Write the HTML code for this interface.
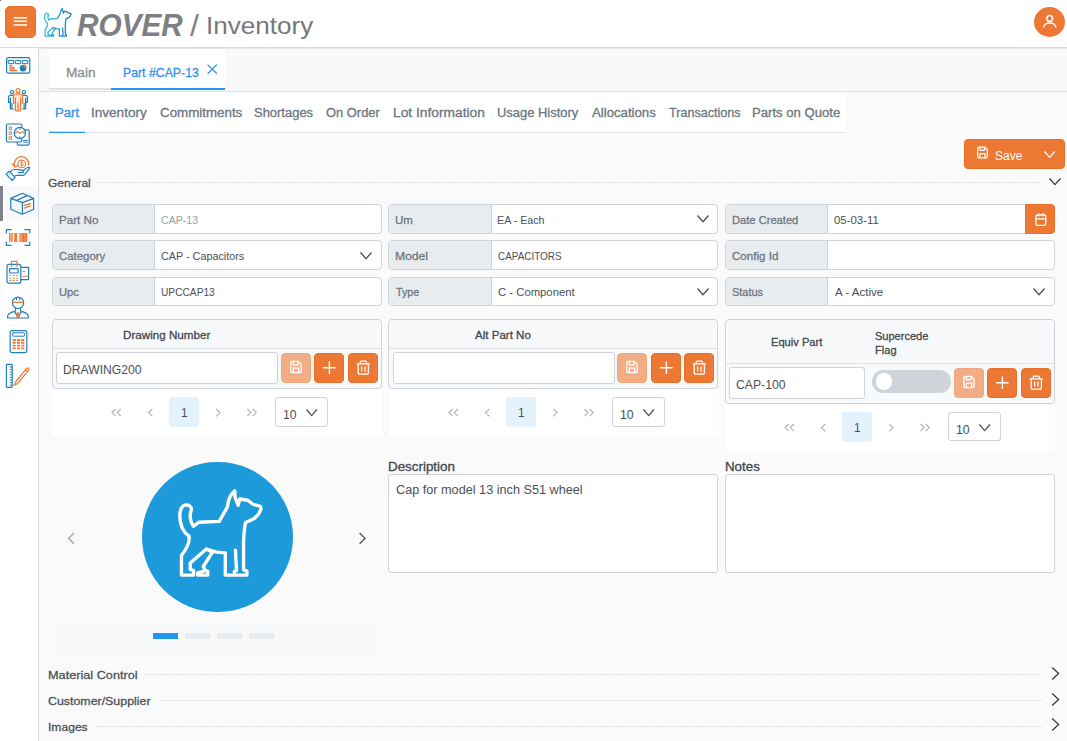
<!DOCTYPE html>
<html lang="en">
<head>
<meta charset="utf-8">
<title>ROVER / Inventory</title>
<style>
*{box-sizing:border-box;margin:0;padding:0}
html,body{width:1067px;height:741px;overflow:hidden}
body{position:relative;background:#fafafa;font-family:"Liberation Sans",sans-serif;font-size:12.5px;color:#495057}
.abs{position:absolute}
.t{position:absolute;white-space:nowrap;line-height:16px;transform-origin:0 0}
#header{position:absolute;left:0;top:0;width:1067px;height:48px;background:#fff;border-bottom:1px solid #d9d9d9}
#hsh{position:absolute;left:0;top:48px;width:1067px;height:1px;background:#e6e6e6}
#menu{position:absolute;left:5px;top:6px;width:31px;height:32px;background:#ec7833;border:1px solid #ea7028;border-radius:5px}
#user{position:absolute;left:1034px;top:7px;width:31px;height:30px;border-radius:50%;background:#ec7833}
#side{position:absolute;left:0;top:48px;width:39px;height:693px;background:#fff;border-right:1px solid #d9d9d9}
#strip{position:absolute;left:39px;top:49px;width:1028px;height:42px;background:#f8f9fa}
#tabs{position:absolute;left:49px;top:49px;width:176px;height:41px;background:#fff}
#tabs .ln{position:absolute;left:0;top:39px;width:62px;height:2px;background:#dee2e6}
#tabs .lnb{position:absolute;left:62px;top:39px;width:114px;height:2px;background:#2196f3}
#hr1{position:absolute;left:39px;top:91px;width:1028px;height:1px;background:#dee2e6}
#sub{position:absolute;left:49px;top:92px;width:797px;height:41px;background:#fff;border-bottom:1px solid #dee2e6}
#sub .ul{position:absolute;left:0;top:39px;width:36px;height:2px;background:linear-gradient(rgba(33,150,243,.3) 0,rgba(33,150,243,.3) 50%,#2196f3 50%)}
.dash{position:absolute;height:1px;background:repeating-linear-gradient(90deg,#e1e3e6 0,#e1e3e6 4px,transparent 4px,transparent 5px)}
.sec{position:absolute;left:49px;font-size:12.8px;color:#3f454b;white-space:nowrap;line-height:16px}
.f{position:absolute;height:29.5px;width:329.6px;border:1px solid #ced4da;border-radius:4px;background:#fff;overflow:hidden}
.f .l{position:absolute;left:0;top:0;width:102px;height:28px;background:#e9ecef;border-right:1px solid #ced4da}
.tb{position:absolute;border:1px solid #ced4da;border-radius:4px;background:#f8f9fa;width:329.6px}
.tb .hl{position:absolute;left:0;width:100%;height:1px;background:#dee2e6}
.inp{position:absolute;border:1px solid #ced4da;border-radius:3px;background:#fff}
.btn{position:absolute;width:30px;height:30px;border-radius:4px;background:#ec7833;border:1px solid #ea7028}
.btn.dis{background:#f2ad85;border-color:#f1a77c}
.btn svg{position:absolute;left:-1px;top:-1px;width:30px;height:30px}
.pg{position:absolute;background:#fff;width:329.6px;height:46px}
.pg .cur{position:absolute;left:117px;top:7px;width:30px;height:30px;background:#e3f2fd;border-radius:3px}
.pg svg.ar{position:absolute;top:0;left:0;width:330px;height:46px}
.pg .dd{position:absolute;left:223px;top:7px;width:52.6px;height:29.5px;border:1px solid #ced4da;border-radius:3px;background:#fff}
.ta{position:absolute;border:1px solid #ced4da;border-radius:3px;background:#fff}
</style>
</head>
<body>
<!-- HEADER -->
<div id="header">
  <div id="menu"><svg class="abs" style="left:-1px;top:-1px" width="31" height="32" viewBox="0 0 31 32"><path d="M8.6 11.7H22M8.6 15.3H22M8.6 19H22" stroke="#fff" stroke-width="1.45" fill="none"/></svg></div>
  <svg class="abs" style="left:42px;top:6px;width:32px;height:33px;overflow:visible" viewBox="0 0 32 33">
    <defs><linearGradient id="lg" x1="0" y1="0" x2="1" y2="0"><stop offset="0" stop-color="#2fbce6"/><stop offset="1" stop-color="#1a78b8"/></linearGradient></defs>
    <path d="M160 328C135 300 128 250 143 205C148 180 120 165 95 172C55 185 45 260 75 340C90 372 110 390 125 400C135 440 120 480 70 545V690H160V657L135 648V600L255 497L300 520L232 626L246 655L265 662V690H190V674L236 660M255 497L330 520L395 525V690H555V660L530 650V450C532 400 534 350 545 300L610 270L640 240L660 200L655 180L600 165L560 135L502 126L490 172L468 115L465 65C435 90 415 140 410 185L350 292L200 298L160 328M470 505L478 655L462 663V690" stroke="url(#lg)" stroke-width="29" stroke-linejoin="round" stroke-linecap="round" fill="none" transform="translate(-0.01 -0.31) scale(0.044)"/>
  </svg>
  <div id="user">
    <svg viewBox="0 0 31 30" width="31" height="30"><circle cx="15.7" cy="11.4" r="2.9" fill="none" stroke="#fff" stroke-width="1.4"/><path d="M9.6 20.6C9.8 14.4 21.6 14.4 21.8 20.6" fill="none" stroke="#fff" stroke-width="1.4"/></svg>
  </div>
</div>
<div id="hsh"></div>

<div class="t" style="left:76.73px;top:6px;font-size:31.2px;line-height:40px;color:#7d7f83;transform:scaleX(0.9540);font-weight:bold;font-style:italic;">ROVER</div>
<div class="t" style="left:189.53px;top:6px;font-size:28.6px;line-height:40px;color:#808285;transform:scaleX(1.1343);">/</div>
<div class="t" style="left:206.08px;top:6px;font-size:23.2px;line-height:40px;color:#77787b;transform:scaleX(1.1240);">Inventory</div>
<div class="abs" style="left:0;top:0;width:1px;height:1px;background:#6a6a6a;z-index:5"></div>
<!-- SIDEBAR -->
<div id="side"></div>
<div class="abs" style="left:0;top:186px;width:3px;height:35px;background:#7f828c"></div>
<div class="abs" style="left:4px;top:186px;width:34px;height:35px;background:#f8f9fa"></div>
<svg class="abs" style="left:0;top:0;width:39px;height:400px" viewBox="0 0 39 400" fill="none" stroke-linecap="round" stroke-linejoin="round">
  <g stroke="#1f7fb8" stroke-width="1.2">
    <!-- 1 dashboard -->
    <rect x="6.6" y="57.6" width="23.2" height="15.6" rx="1.8"/>
    <rect x="8.6" y="60.5" width="5" height="3.2" stroke-width="1"/>
    <rect x="15.7" y="60.5" width="5" height="3.2" stroke-width="1"/>
    <rect x="22.8" y="60.5" width="5" height="3.2" stroke-width="1"/>
    <circle cx="23" cy="68.2" r="2.7" fill="#1f7fb8"/>
    <!-- 2 people (blue sides) -->
    <circle cx="12.1" cy="92.1" r="1.6"/>
    <circle cx="23.9" cy="92.1" r="1.6"/>
    <path d="M13 95.4H10.4A1.8 1.8 0 0 0 8.6 97.2V102.4H10.4V109H13.4M10.4 102.4V98M11.9 103V109" />
    <path d="M23 95.4H25.6A1.8 1.8 0 0 1 27.4 97.2V102.4H25.6V109H22.6M25.6 102.4V98M24.1 103V109"/>
    <!-- 3 schedule -->
    <path d="M21.8 128V125.4A1.4 1.4 0 0 0 20.4 124H7.8A1.4 1.4 0 0 0 6.4 125.4V140.6A1.4 1.4 0 0 0 7.8 142H20.4A1.4 1.4 0 0 0 21.8 140.6V139.6"/>
    <path d="M25.4 129.8H27.8A1.4 1.4 0 0 1 29.2 131.2V143.8A1.4 1.4 0 0 1 27.8 145.2H18.6A1.4 1.4 0 0 1 17.2 143.8V142.2"/>
    <circle cx="19.9" cy="133" r="5.6" fill="#fff"/>
    <path d="M19.9 128.4V129.4M19.9 136.6V137.6M15.3 133H16.3M23.5 133H24.5" stroke-width="1"/>
    <path d="M23.4 140.4H27.4M23.4 142.2H27.4" stroke-width="1"/>
    <!-- 4 hand -->
    <path d="M6.1 174.1L9.3 171.3L15.1 177.4L12.1 180.5ZM10.6 171.6C11.4 170.2 12.6 169.6 14 169.5H17C19 169.5 20.5 170.3 22.6 170.3C23.8 170.3 23.8 172.6 22.6 172.6H18.4M23.2 170.6L27.6 167.4C28.8 166.6 30.2 167.8 29.3 169L24.6 174.6C24.2 175.1 23.6 175.3 23 175.3H16.4L14.2 176.6"/>
    <circle cx="9.5" cy="174.3" r="0.5" fill="#1f7fb8" stroke="none"/>
    <!-- 5 box -->
    <path d="M22.3 193.3L33.6 198.4V209.3L22.4 214.2L10.8 209.3V198.4ZM10.8 198.4L22.4 202.6L33.6 198.4M22.4 202.6V214.2M16.9 200.4L27 195.6"/>
    <!-- 6 barcode corners -->
    <path d="M6.4 233.4V229.6H11.6M24.4 229.6H29.8V233.4M29.8 241.6V245.4H24.4M11.6 245.4H6.4V241.6" stroke-linecap="butt" stroke-linejoin="miter"/>
    <!-- 7 pos -->
    <rect x="7" y="264.4" width="13.8" height="18.8" rx="2"/>
    <rect x="9.6" y="268.6" width="8.6" height="4.4" rx="0.8"/>
    <path d="M21 267.4H28.6V279.6H21"/>
    <!-- 8 worker -->
    <circle cx="18" cy="302.8" r="5.7"/>
    <path d="M16.4 297.4V300M19.6 297.4V300" stroke-width="1"/>
    <path d="M7.6 318V316.6C7.6 313.4 10.8 312.4 14.6 311.4L18 317.4L21.4 311.4C25.2 312.4 28.4 313.4 28.4 316.6V318Z"/>
    <path d="M15.4 308.2V311.2M20.6 308.2V311.2" stroke-width="1"/>
    <!-- 9 calc -->
    <rect x="10.2" y="330.6" width="16.6" height="22" rx="2"/>
    <rect x="12.6" y="332.8" width="11.8" height="3.4" rx="0.6" stroke-width="1"/>
    <!-- 10 ruler -->
    <rect x="6.4" y="364.4" width="5.8" height="23" rx="0.8"/>
    <path d="M10 367H12M10 369.6H12M10 372.2H12M10 374.8H12M10 377.4H12M10 380H12M10 382.6H12M10 385.2H12" stroke-width="0.9"/>
  </g>
  <g stroke="#ee7a3a" stroke-width="1.2">
    <!-- 1 -->
    <path d="M9.4 65.6H12.4M9.4 67.3H14.6M9.4 69H14.8M9.4 70.7H17.4" stroke-width="1.3" stroke-linecap="butt"/>
    <path d="M23.5 67.7V64.4A3.3 3.3 0 0 1 26.8 67.7Z" fill="#ee7a3a" stroke="none"/>
    <!-- 2 center -->
    <circle cx="18" cy="90.7" r="2"/>
    <path d="M15.4 94.2H20.6A2 2 0 0 1 22.6 96.2V103H20.6V110A0.8 0.8 0 0 1 19.8 110.8H16.2A0.8 0.8 0 0 1 15.4 110V103H13.4V96.2A2 2 0 0 1 15.4 94.2ZM18 103V110.6M15.4 103V98M20.6 103V98" fill="#fde3d3"/>
    <!-- 3 -->
    <rect x="9.2" y="127" width="2.4" height="2.4" stroke-width="1" stroke-linejoin="miter"/>
    <rect x="9.2" y="131.8" width="2.4" height="2.4" stroke-width="1" stroke-linejoin="miter"/>
    <rect x="9.2" y="136.8" width="2.4" height="2.4" stroke-width="1" stroke-linejoin="miter"/>
    <path d="M16.6 131L19.9 133.2L23.2 131.4" stroke-width="1.1"/>
    <!-- 4 -->
    <path d="M14.6 166A7.2 7.2 0 1 1 28.6 165M12.2 163.8L15 167.2L18 165.2" stroke-width="1.3"/>
    <circle cx="21.7" cy="163.9" r="3.8" stroke-width="1.1"/>
    <path d="M22.9 162.6C21.9 161.7 20.5 162.3 20.7 163.2C20.9 164.1 22.9 163.7 22.9 164.8C22.9 165.7 21.3 165.9 20.5 165.2M21.8 161.4V166.4" stroke-width="0.9"/>
    <!-- 5 -->
    <path d="M24.4 205.4L30 203.6M24.4 208.1L30.2 205.9" stroke-width="1.3"/>
    <!-- 6 bars -->
    <path d="M9.8 233V242M12 233V242M15 233V242M16.4 233V242M20 233V242M22 233V242M23.4 233V242M25 233V242M26.6 233V242" stroke-linecap="butt" stroke-width="1.5"/>
    <!-- 7 -->
    <path d="M11.4 266.4V261.4H17V266.4"/>
    <path d="M9.4 275.6H11.4M12.8 275.6H14.8M16.2 275.6H18.2M9.4 278.2H11.4M12.8 278.2H14.8M16.2 278.2H18.2M9.4 280.6H11.4M12.8 280.6H14.8M16.2 280.6H18.2M22.4 271.6H25.4M22.4 276.4H27.8" stroke-width="1" stroke-linecap="butt"/>
    <!-- 8 -->
    <path d="M13.2 302.4H22.8" stroke-width="1.3"/>
    <path d="M17.2 312.6H18.8L19.2 317.8H16.8Z" fill="#ee7a3a" stroke-width="0.6"/>
    <!-- 9 -->
    <path d="M12.6 340H24.4M12.6 342.8H24.4M12.6 345.6H24.4M12.6 348.4H24.4" stroke-width="1.9" stroke-linecap="butt" stroke-dasharray="3.2 1.1"/>
    <!-- 10 -->
    <path d="M12.4 385H15.2L17.4 383.6L28.8 369.8C29.6 368.8 27.6 367.2 26.8 368.2L15.6 382L15.2 385M25.4 369.8L27.6 371.6"/>
  </g>
</svg>

<!-- TOP TABS -->
<div id="strip"></div>
<div id="tabs">
  <div class="ln"></div><div class="lnb"></div>
  <svg class="abs" style="left:157.6px;top:15px;width:11px;height:11px" viewBox="0 0 11 11"><path d="M0.6 0.6L10 9.8M10 0.6L0.6 9.8" stroke="#2f8ff0" stroke-width="1.3" fill="none"/></svg>
</div>
<div id="hr1"></div>

<div class="t" style="left:66.01px;top:65px;font-size:12.5px;color:#868e96;transform:scaleX(1.0909);-webkit-text-stroke:0.28px currentColor;">Main</div>
<div class="t" style="left:122.72px;top:65px;font-size:12.5px;color:#2f8ff0;transform:scaleX(0.9830);-webkit-text-stroke:0.28px currentColor;">Part #CAP-13</div>
<!-- SUB TABS -->
<div id="sub"><div class="ul"></div></div>
<div class="t" style="left:54.55px;top:105px;font-size:12.5px;color:#2f8ff0;transform:scaleX(1.0500);-webkit-text-stroke:0.28px currentColor;">Part</div>
<div class="t" style="left:90.71px;top:105px;font-size:12.5px;color:#6c757d;transform:scaleX(1.0838);-webkit-text-stroke:0.28px currentColor;">Inventory</div>
<div class="t" style="left:159.92px;top:105px;font-size:12.5px;color:#6c757d;transform:scaleX(1.0674);-webkit-text-stroke:0.28px currentColor;">Commitments</div>
<div class="t" style="left:254.31px;top:105px;font-size:12.5px;color:#6c757d;transform:scaleX(1.0367);-webkit-text-stroke:0.28px currentColor;">Shortages</div>
<div class="t" style="left:325.99px;top:105px;font-size:12.5px;color:#6c757d;transform:scaleX(1.0336);-webkit-text-stroke:0.28px currentColor;">On Order</div>
<div class="t" style="left:392.70px;top:105px;font-size:12.5px;color:#6c757d;transform:scaleX(1.1018);-webkit-text-stroke:0.28px currentColor;">Lot Information</div>
<div class="t" style="left:496.75px;top:105px;font-size:12.5px;color:#6c757d;transform:scaleX(1.0355);-webkit-text-stroke:0.28px currentColor;">Usage History</div>
<div class="t" style="left:591.55px;top:105px;font-size:12.5px;color:#6c757d;transform:scaleX(1.0552);-webkit-text-stroke:0.28px currentColor;">Allocations</div>
<div class="t" style="left:668.57px;top:105px;font-size:12.5px;color:#6c757d;transform:scaleX(1.0074);-webkit-text-stroke:0.28px currentColor;">Transactions</div>
<div class="t" style="left:752.25px;top:105px;font-size:12.5px;color:#6c757d;transform:scaleX(1.0492);-webkit-text-stroke:0.28px currentColor;">Parts on Quote</div>

<!-- SAVE -->
<div class="abs" style="left:964px;top:139px;width:101px;height:30px;background:#ec7833;border:1px solid #ea7028;border-radius:4px">
  <svg class="abs" style="left:3.4px;top:-1.2px;width:29px;height:29px" viewBox="0 0 30 30"><path d="M11.2 8.3H17.2L20 11.1V18.4A1.2 1.2 0 0 1 18.8 19.6H11.2A1.2 1.2 0 0 1 10 18.4V9.5A1.2 1.2 0 0 1 11.2 8.3ZM12.4 8.5V11.8H17V8.5M12.4 19.4V15.1H17.6V19.4" fill="none" stroke="#fff" stroke-width="1.3" stroke-linejoin="round"/></svg>
</div>
<div class="t" style="left:994.64px;top:148px;font-size:12.5px;color:#fff;transform:scaleX(0.9593);">Save</div><svg class="abs" style="left:1044px;top:151px;width:11.4px;height:7.4px;overflow:visible" viewBox="0 0 11.4 7.4"><path d="M0.5 0.5L5.7 6.4L10.9 0.5" fill="none" stroke="#fff" stroke-width="1.3"/></svg>
<!-- SECTIONS -->
<div class="t" style="left:48.37px;top:175px;font-size:11.8px;color:#495057;transform:scaleX(1.0186);-webkit-text-stroke:0.28px currentColor;">General</div><div class="dash" style="left:97px;top:182px;width:945px"></div><svg class="abs" style="left:1049px;top:178.2px;width:12px;height:7.6px;overflow:visible" viewBox="0 0 12 7.6"><path d="M0.5 0.5L6.0 6.6L11.5 0.5" fill="none" stroke="#343a40" stroke-width="1.3"/></svg>
<div class="t" style="left:48.02px;top:667px;font-size:11.8px;color:#495057;transform:scaleX(1.0757);-webkit-text-stroke:0.28px currentColor;">Material Control</div><div class="dash" style="left:145px;top:674px;width:897px"></div><svg class="abs" style="left:1051px;top:666.8px;width:9px;height:13px" viewBox="0 0 9 13"><path d="M1.2 0.6L7.6 6.5L1.2 12.4" fill="none" stroke="#343a40" stroke-width="1.3"/></svg>
<div class="t" style="left:48.36px;top:693px;font-size:11.8px;color:#495057;transform:scaleX(1.0495);-webkit-text-stroke:0.28px currentColor;">Customer/Supplier</div><div class="dash" style="left:159px;top:700px;width:883px"></div><svg class="abs" style="left:1051px;top:692.8px;width:9px;height:13px" viewBox="0 0 9 13"><path d="M1.2 0.6L7.6 6.5L1.2 12.4" fill="none" stroke="#343a40" stroke-width="1.3"/></svg>
<div class="t" style="left:47.78px;top:719px;font-size:11.8px;color:#495057;transform:scaleX(1.0248);-webkit-text-stroke:0.28px currentColor;">Images</div><div class="dash" style="left:95px;top:726px;width:947px"></div><svg class="abs" style="left:1051px;top:717.8px;width:9px;height:13px" viewBox="0 0 9 13"><path d="M1.2 0.6L7.6 6.5L1.2 12.4" fill="none" stroke="#343a40" stroke-width="1.3"/></svg>
<!-- FIELDS -->
<div class="f" style="left:52px;top:204px"><div class="l"></div></div><div class="t" style="left:58.99px;top:212px;font-size:11.6px;color:#6c757d;transform:scaleX(1.0029);-webkit-text-stroke:0.28px currentColor;">Part No</div><div class="t" style="left:161.18px;top:212px;font-size:11.4px;color:#9a9fa4;transform:scaleX(0.9305);">CAP-13</div>
<div class="f" style="left:52px;top:240.3px"><div class="l"></div></div><div class="t" style="left:59.29px;top:248px;font-size:11.6px;color:#6c757d;transform:scaleX(0.9833);-webkit-text-stroke:0.28px currentColor;">Category</div><div class="t" style="left:161.17px;top:248px;font-size:11.4px;color:#495057;transform:scaleX(0.9478);">CAP - Capacitors</div><svg class="abs" style="left:359.6px;top:251.5px;width:12px;height:7.8px;overflow:visible" viewBox="0 0 12 7.8"><path d="M0.5 0.5L6.0 6.8L11.5 0.5" fill="none" stroke="#495057" stroke-width="1.3"/></svg>
<div class="f" style="left:52px;top:276.7px"><div class="l"></div></div><div class="t" style="left:59.08px;top:284px;font-size:11.6px;color:#6c757d;transform:scaleX(0.9676);-webkit-text-stroke:0.28px currentColor;">Upc</div><div class="t" style="left:160.75px;top:284px;font-size:11.4px;color:#495057;transform:scaleX(0.8935);">UPCCAP13</div>
<div class="f" style="left:388.4px;top:204px"><div class="l" style="width:103px"></div></div><div class="t" style="left:395.47px;top:212px;font-size:11.6px;color:#6c757d;transform:scaleX(0.9950);-webkit-text-stroke:0.28px currentColor;">Um</div><div class="t" style="left:497.16px;top:212px;font-size:11.4px;color:#495057;transform:scaleX(0.9391);">EA - Each</div><svg class="abs" style="left:696.8px;top:215.2px;width:12px;height:7.8px;overflow:visible" viewBox="0 0 12 7.8"><path d="M0.5 0.5L6.0 6.8L11.5 0.5" fill="none" stroke="#495057" stroke-width="1.3"/></svg>
<div class="f" style="left:388.4px;top:240.3px"><div class="l" style="width:103px"></div></div><div class="t" style="left:395.36px;top:248px;font-size:11.6px;color:#6c757d;transform:scaleX(1.0433);-webkit-text-stroke:0.28px currentColor;">Model</div><div class="t" style="left:497.61px;top:248px;font-size:11.4px;color:#495057;transform:scaleX(0.8702);">CAPACITORS</div>
<div class="f" style="left:388.4px;top:276.7px"><div class="l" style="width:103px"></div></div><div class="t" style="left:396.00px;top:284px;font-size:11.6px;color:#6c757d;transform:scaleX(0.9291);-webkit-text-stroke:0.28px currentColor;">Type</div><div class="t" style="left:497.55px;top:284px;font-size:11.4px;color:#495057;transform:scaleX(0.9925);">C - Component</div><svg class="abs" style="left:696.8px;top:287.9px;width:12px;height:7.8px;overflow:visible" viewBox="0 0 12 7.8"><path d="M0.5 0.5L6.0 6.8L11.5 0.5" fill="none" stroke="#495057" stroke-width="1.3"/></svg>
<div class="f" style="left:725px;top:204px"><div class="l"></div></div><div class="t" style="left:732.01px;top:212px;font-size:11.6px;color:#6c757d;transform:scaleX(0.9611);-webkit-text-stroke:0.28px currentColor;">Date Created</div><div class="t" style="left:834.26px;top:212px;font-size:11.4px;color:#495057;transform:scaleX(1.0001);">05-03-11</div><div class="abs" style="left:1024.6px;top:204px;width:30.4px;height:30px;background:#ec7833;border:1px solid #ea7028;border-radius:0 4px 4px 0"><svg class="abs" style="left:-1px;top:-1px" width="31" height="31" viewBox="0 0 31 31"><rect x="10.9" y="11" width="9.9" height="10.4" rx="1.7" fill="none" stroke="#fff" stroke-width="1.3"/><path d="M11 14.8H20.6M13.7 9.2V12.4M18 9.2V12.4" stroke="#fff" stroke-width="1.3" fill="none"/></svg></div>
<div class="f" style="left:725px;top:240.3px"><div class="l"></div></div><div class="t" style="left:732.28px;top:248px;font-size:11.6px;color:#6c757d;transform:scaleX(0.9990);-webkit-text-stroke:0.28px currentColor;">Config Id</div>
<div class="f" style="left:725px;top:276.7px"><div class="l"></div></div><div class="t" style="left:732.24px;top:284px;font-size:11.6px;color:#6c757d;transform:scaleX(0.9424);-webkit-text-stroke:0.28px currentColor;">Status</div><div class="t" style="left:834.51px;top:284px;font-size:11.4px;color:#495057;transform:scaleX(1.0168);">A - Active</div><svg class="abs" style="left:1032.6px;top:287.9px;width:12px;height:7.8px;overflow:visible" viewBox="0 0 12 7.8"><path d="M0.5 0.5L6.0 6.8L11.5 0.5" fill="none" stroke="#495057" stroke-width="1.3"/></svg>
<!-- TABLES -->
<div class="tb" style="left:52px;top:319px;height:69.5px"><div class="hl" style="top:28px"></div><div class="inp" style="left:3.4px;top:32.4px;width:222px;height:31.2px"></div></div><div class="t" style="left:122.70px;top:327px;font-size:11.4px;color:#3f464d;transform:scaleX(1.0222);-webkit-text-stroke:0.28px currentColor;">Drawing Number</div><div class="t" style="left:62.91px;top:362px;font-size:12.3px;color:#495057;transform:scaleX(0.9888);">DRAWING200</div><div class="btn dis" style="left:281px;top:353px"><svg viewBox="0 0 30 30"><path d="M11.2 8.3H17.2L20 11.1V18.4A1.2 1.2 0 0 1 18.8 19.6H11.2A1.2 1.2 0 0 1 10 18.4V9.5A1.2 1.2 0 0 1 11.2 8.3ZM12.4 8.5V11.8H17V8.5M12.4 19.4V15.1H17.6V19.4" fill="none" stroke="#fff" stroke-width="1.3" stroke-linejoin="round"/></svg></div><div class="btn" style="left:314.2px;top:353px"><svg viewBox="0 0 30 30"><path d="M15.4 8.6V21M9.2 14.8H21.6" fill="none" stroke="#fff" stroke-width="1.4"/></svg></div><div class="btn" style="left:347.8px;top:353px"><svg viewBox="0 0 30 30"><path d="M8.6 10.8H22M12.2 10.6V9.2A1 1 0 0 1 13.2 8.2H17.4A1 1 0 0 1 18.4 9.2V10.6M10.2 11V19.8A1.4 1.4 0 0 0 11.6 21.2H19A1.4 1.4 0 0 0 20.4 19.8V11M13.6 13.6V18.4M17 13.6V18.4" fill="none" stroke="#fff" stroke-width="1.3" stroke-linejoin="round"/></svg></div><div class="pg" style="left:52px;top:390px"><svg class="ar" viewBox="0 0 330 46"><g fill="none" stroke="#adb5bd" stroke-width="1.2"><path d="M63.6 19.0L60 22.6L63.6 26.200000000000003M68.8 19.0L65.2 22.6L68.8 26.200000000000003"/><path d="M100.4 18.8L96.6 22.6L100.4 26.400000000000002"/><path d="M164.2 18.8L168 22.6L164.2 26.400000000000002"/><path d="M195.4 19.0L199 22.6L195.4 26.200000000000003M200.6 19.0L204.2 22.6L200.6 26.200000000000003"/></g></svg><div class="cur"></div><div class="dd"></div></div><div class="t" style="left:180.54px;top:405px;font-size:12.3px;color:#495057;transform:scaleX(0.9630);">1</div><div class="t" style="left:282.71px;top:407px;font-size:12.3px;color:#495057;transform:scaleX(0.9941);">10</div><svg class="abs" style="left:305.8px;top:409.4px;width:11.4px;height:7.6px;overflow:visible" viewBox="0 0 11.4 7.6"><path d="M0.5 0.5L5.7 6.6L10.9 0.5" fill="none" stroke="#495057" stroke-width="1.3"/></svg>
<div class="tb" style="left:388.4px;top:319px;height:69.5px"><div class="hl" style="top:28px"></div><div class="inp" style="left:3.4px;top:32.4px;width:222px;height:31.2px"></div></div><div class="t" style="left:475.46px;top:327px;font-size:11.4px;color:#3f464d;transform:scaleX(1.0146);-webkit-text-stroke:0.28px currentColor;">Alt Part No</div><div class="btn dis" style="left:617.4px;top:353px"><svg viewBox="0 0 30 30"><path d="M11.2 8.3H17.2L20 11.1V18.4A1.2 1.2 0 0 1 18.8 19.6H11.2A1.2 1.2 0 0 1 10 18.4V9.5A1.2 1.2 0 0 1 11.2 8.3ZM12.4 8.5V11.8H17V8.5M12.4 19.4V15.1H17.6V19.4" fill="none" stroke="#fff" stroke-width="1.3" stroke-linejoin="round"/></svg></div><div class="btn" style="left:650.5999999999999px;top:353px"><svg viewBox="0 0 30 30"><path d="M15.4 8.6V21M9.2 14.8H21.6" fill="none" stroke="#fff" stroke-width="1.4"/></svg></div><div class="btn" style="left:684.2px;top:353px"><svg viewBox="0 0 30 30"><path d="M8.6 10.8H22M12.2 10.6V9.2A1 1 0 0 1 13.2 8.2H17.4A1 1 0 0 1 18.4 9.2V10.6M10.2 11V19.8A1.4 1.4 0 0 0 11.6 21.2H19A1.4 1.4 0 0 0 20.4 19.8V11M13.6 13.6V18.4M17 13.6V18.4" fill="none" stroke="#fff" stroke-width="1.3" stroke-linejoin="round"/></svg></div><div class="pg" style="left:389px;top:390px"><svg class="ar" viewBox="0 0 330 46"><g fill="none" stroke="#adb5bd" stroke-width="1.2"><path d="M63.6 19.0L60 22.6L63.6 26.200000000000003M68.8 19.0L65.2 22.6L68.8 26.200000000000003"/><path d="M100.4 18.8L96.6 22.6L100.4 26.400000000000002"/><path d="M164.2 18.8L168 22.6L164.2 26.400000000000002"/><path d="M195.4 19.0L199 22.6L195.4 26.200000000000003M200.6 19.0L204.2 22.6L200.6 26.200000000000003"/></g></svg><div class="cur"></div><div class="dd"></div></div><div class="t" style="left:517.54px;top:405px;font-size:12.3px;color:#495057;transform:scaleX(0.9630);">1</div><div class="t" style="left:619.71px;top:407px;font-size:12.3px;color:#495057;transform:scaleX(0.9941);">10</div><svg class="abs" style="left:642.8px;top:409.4px;width:11.4px;height:7.6px;overflow:visible" viewBox="0 0 11.4 7.6"><path d="M0.5 0.5L5.7 6.6L10.9 0.5" fill="none" stroke="#495057" stroke-width="1.3"/></svg>
<div class="tb" style="left:725px;top:319px;height:84.5px"><div class="hl" style="top:43px"></div><div class="inp" style="left:3.4px;top:47.4px;width:136px;height:31.4px"></div><div class="abs" style="left:146px;top:50px;width:79px;height:23px;border-radius:12px;background:#ced4da"><div class="abs" style="left:3.6px;top:3.4px;width:16.2px;height:16.2px;border-radius:50%;background:#fff"></div></div></div><div class="t" style="left:771.23px;top:334px;font-size:11.4px;color:#3f464d;transform:scaleX(0.9774);-webkit-text-stroke:0.28px currentColor;">Equiv Part</div><div class="t" style="left:874.77px;top:328px;font-size:11.4px;color:#3f464d;transform:scaleX(0.9679);-webkit-text-stroke:0.28px currentColor;">Supercede</div><div class="t" style="left:874.53px;top:342px;font-size:11.4px;color:#3f464d;transform:scaleX(0.9752);-webkit-text-stroke:0.28px currentColor;">Flag</div><div class="t" style="left:736.41px;top:377px;font-size:12.3px;color:#495057;transform:scaleX(0.9917);">CAP-100</div><div class="btn dis" style="left:954px;top:368px"><svg viewBox="0 0 30 30"><path d="M11.2 8.3H17.2L20 11.1V18.4A1.2 1.2 0 0 1 18.8 19.6H11.2A1.2 1.2 0 0 1 10 18.4V9.5A1.2 1.2 0 0 1 11.2 8.3ZM12.4 8.5V11.8H17V8.5M12.4 19.4V15.1H17.6V19.4" fill="none" stroke="#fff" stroke-width="1.3" stroke-linejoin="round"/></svg></div><div class="btn" style="left:987px;top:368px"><svg viewBox="0 0 30 30"><path d="M15.4 8.6V21M9.2 14.8H21.6" fill="none" stroke="#fff" stroke-width="1.4"/></svg></div><div class="btn" style="left:1021px;top:368px"><svg viewBox="0 0 30 30"><path d="M8.6 10.8H22M12.2 10.6V9.2A1 1 0 0 1 13.2 8.2H17.4A1 1 0 0 1 18.4 9.2V10.6M10.2 11V19.8A1.4 1.4 0 0 0 11.6 21.2H19A1.4 1.4 0 0 0 20.4 19.8V11M13.6 13.6V18.4M17 13.6V18.4" fill="none" stroke="#fff" stroke-width="1.3" stroke-linejoin="round"/></svg></div><div class="pg" style="left:725px;top:404.6px"><svg class="ar" viewBox="0 0 330 46"><g fill="none" stroke="#adb5bd" stroke-width="1.2"><path d="M63.6 19.0L60 22.6L63.6 26.200000000000003M68.8 19.0L65.2 22.6L68.8 26.200000000000003"/><path d="M100.4 18.8L96.6 22.6L100.4 26.400000000000002"/><path d="M164.2 18.8L168 22.6L164.2 26.400000000000002"/><path d="M195.4 19.0L199 22.6L195.4 26.200000000000003M200.6 19.0L204.2 22.6L200.6 26.200000000000003"/></g></svg><div class="cur"></div><div class="dd"></div></div><div class="t" style="left:853.54px;top:420px;font-size:12.3px;color:#495057;transform:scaleX(0.9630);">1</div><div class="t" style="left:955.71px;top:422px;font-size:12.3px;color:#495057;transform:scaleX(0.9941);">10</div><svg class="abs" style="left:978.8px;top:424.0px;width:11.4px;height:7.6px;overflow:visible" viewBox="0 0 11.4 7.6"><path d="M0.5 0.5L5.7 6.6L10.9 0.5" fill="none" stroke="#495057" stroke-width="1.3"/></svg>
<!-- CAROUSEL -->
<svg class="abs" style="left:60px;top:525px;width:320px;height:26px" viewBox="0 0 320 26"><path d="M14 8L8.6 13.4L14 18.8" fill="none" stroke="#9aa0a6" stroke-width="1.3"/><path d="M299.6 8L305 13.4L299.6 18.8" fill="none" stroke="#495057" stroke-width="1.3"/></svg>
<div class="abs" style="left:142.4px;top:461.5px;width:150.2px;height:150.4px;border-radius:50%;background:#1c9ad9"></div>
<svg class="abs" style="left:172px;top:482px;width:100px;height:100px" viewBox="0 0 741 741">
  <path d="M160 328C135 300 128 250 143 205C148 180 120 165 95 172C55 185 45 260 75 340C90 372 110 390 125 400C135 440 120 480 70 545V690H160V657L135 648V600L255 497L300 520L232 626L246 655L265 662V690H190V674L236 660M255 497L330 520L395 525V690H555V660L530 650V450C532 400 534 350 545 300L610 270L640 240L660 200L655 180L600 165L560 135L502 126L490 172L468 115L465 65C435 90 415 140 410 185L350 292L200 298L160 328M470 505L478 655L462 663V690" fill="none" stroke="#fff" stroke-width="25" stroke-linejoin="round" stroke-linecap="round"/>
</svg>
<div class="abs" style="left:52px;top:620px;width:330px;height:37px;background:#f8f9fa"></div>
<div class="abs" style="left:153px;top:633px;width:25px;height:5.6px;background:#2196f3"></div>
<div class="abs" style="left:185px;top:633px;width:25px;height:5.6px;background:#e9ecef"></div>
<div class="abs" style="left:217px;top:633px;width:25px;height:5.6px;background:#e9ecef"></div>
<div class="abs" style="left:249px;top:633px;width:25px;height:5.6px;background:#e9ecef"></div>

<!-- TEXTAREAS -->
<div class="ta" style="left:388.4px;top:474px;width:329.6px;height:99.4px"></div>
<div class="ta" style="left:725px;top:474px;width:329.6px;height:99.4px"></div>

<div class="t" style="left:387.91px;top:459px;font-size:12.3px;color:#3f464d;transform:scaleX(1.0883);-webkit-text-stroke:0.28px currentColor;">Description</div><div class="t" style="left:724.72px;top:459px;font-size:12.3px;color:#3f464d;transform:scaleX(1.0832);-webkit-text-stroke:0.28px currentColor;">Notes</div>
<div class="t" style="left:395.58px;top:482px;font-size:12px;color:#495057;transform:scaleX(1.0558);">Cap for model 13 inch S51 wheel</div>
</body>
</html>
